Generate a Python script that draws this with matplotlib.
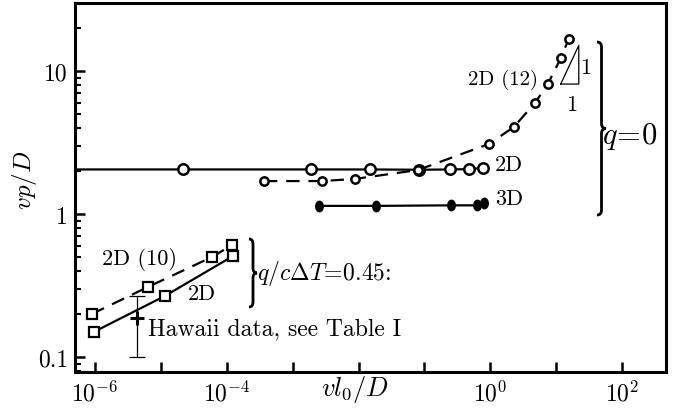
import numpy as np
import matplotlib
matplotlib.use("Agg")
import matplotlib.pyplot as plt
from matplotlib.path import Path
from matplotlib.patches import PathPatch

plt.rcParams['mathtext.fontset'] = 'cm'
plt.rcParams['font.family'] = 'serif'
plt.rcParams['font.serif'] = ['cmr10', 'DejaVu Serif']
plt.rcParams['axes.unicode_minus'] = False

# q = 0, 2D (solid), first x is where the line leaves the axis
x_2d = [10**-6.3, 10**-4.665, 10**-2.72, 10**-1.827, 10**-1.08, 10**-0.61, 10**-0.32, 10**-0.11]
y_2d = [2.05, 2.05, 2.05, 2.05, 2.04, 2.05, 2.06, 2.10]

# q = 0, 2D (12) (dashed)
x_2d12 = [10**-3.435, 10**-2.556, 10**-2.055, 10**-1.10, 10**-0.02, 10**0.358, 10**0.677, 10**0.874, 10**1.07, 10**1.19]
y_2d12 = [1.70, 1.70, 1.76, 2.03, 3.09, 4.06, 5.97, 8.11, 12.3, 16.7]

# q = 0, 3D (filled)
x_3d = [10**-2.60, 10**-1.736, 10**-0.598, 10**-0.203, 10**-0.097]
y_3d = [1.14, 1.14, 1.15, 1.15, 1.19]

# q/cdT = 0.45
x_q2d10 = [10**-6.046, 10**-5.196, 10**-4.225, 10**-3.92]
y_q2d10 = [0.200, 0.309, 0.50, 0.607]
x_q2d = [10**-6.015, 10**-4.94, 10**-3.906]
y_q2d = [0.150, 0.267, 0.508]

# Hawaii data
x_haw = [10**-5.36]
y_haw = [0.187]
y_haw_lo = [0.100]
y_haw_hi = [0.267]

# slope triangle (1:1)
tri_x = [10**1.07, 10**1.344, 10**1.344, 10**1.07]
tri_y = [10**0.909, 10**0.909, 10**1.18, 10**0.909]

xtick_pos = [1e-6, 1e-5, 1e-4, 1e-3, 1e-2, 1e-1, 1e0, 1e1, 1e2]
xtick_lab = [r'$10^{-6}$', '', r'$10^{-4}$', '', '', '', r'$10^{0}$', '', r'$10^{2}$']

# tall ellipse marker for the filled points
circ = Path.unit_circle()
ellipse = Path(circ.vertices * np.array([0.72, 1.0]), circ.codes)

fig = plt.figure(figsize=(6.74, 4.14), dpi=100)
ax = fig.add_axes([75/674, 41/414, 591/674, 369/414])
ax.set_xscale('log')
ax.set_yscale('log')
ax.set_xlim(10**-6.304, 10**2.668)
ax.set_ylim(10**-1.105, 10**1.476)

lw = 1.6
ax.plot(x_2d, y_2d, '-', color='k', lw=lw, marker='o', mfc='white', mec='k',
        ms=7.5, mew=1.8, markevery=list(range(1, len(x_2d))), zorder=3)
ax.plot(x_2d12, y_2d12, '--', color='k', lw=lw, dashes=(6, 4), marker='o',
        mfc='white', mec='k', ms=6, mew=1.8, zorder=3)
ax.plot(x_3d, y_3d, '-', color='k', lw=lw, marker=ellipse, mfc='k', mec='k',
        ms=7.5, zorder=3)
ax.plot(x_q2d10, y_q2d10, '--', color='k', lw=lw, dashes=(6, 4), marker='s',
        mfc='white', mec='k', ms=7, mew=1.6, zorder=3)
ax.plot(x_q2d, y_q2d, '-', color='k', lw=lw, marker='s', mfc='white', mec='k',
        ms=7, mew=1.6, zorder=3)

yerr = [[y_haw[0] - y_haw_lo[0]], [y_haw_hi[0] - y_haw[0]]]
ax.errorbar(x_haw, y_haw, yerr=yerr, fmt='none', ecolor='k', elinewidth=0.9,
            capsize=6, capthick=0.9)
ax.plot(x_haw, y_haw, marker='+', color='k', ms=10, mew=2.2, ls='none')

ax.plot(tri_x, tri_y, color='k', lw=0.9)

# ticks
ax.set_xticks(xtick_pos)
ax.set_xticklabels(xtick_lab)
ax.xaxis.set_minor_locator(matplotlib.ticker.NullLocator())
ax.set_yticks([0.1, 1, 10])
ax.set_yticklabels(['0.1', '1', '10'])
ax.yaxis.set_minor_locator(matplotlib.ticker.LogLocator(base=10, subs=np.arange(2, 10), numticks=20))
ax.yaxis.set_minor_formatter(matplotlib.ticker.NullFormatter())
ax.tick_params(axis='both', which='major', direction='in', length=7, width=1.8,
               labelsize=17, top=False, right=False)
ax.tick_params(axis='x', which='major', pad=6)
ax.tick_params(axis='y', which='major', pad=5)
ax.tick_params(axis='both', which='minor', direction='in', length=4.5, width=1.5,
               top=False, right=False)
for s in ax.spines.values():
    s.set_linewidth(2.2)

ax.text(-0.085, 0.523, r'$vp/D$', fontsize=18, rotation=90, ha='center',
        va='center', transform=ax.transAxes)
ax.text(10**-2.06, 10**-1.11, r'$vl_0/D$', fontsize=19, ha='center', va='top')

# labels
fs = 16
ax.text(10**0.725, 10**0.944, '2D (12)', fontsize=fs - 1, ha='right', va='center')
ax.text(10**1.45, 10**1.03, '1', fontsize=fs, ha='center', va='center')
ax.text(10**1.24, 10**0.765, '1', fontsize=fs, ha='center', va='center')
ax.text(10**0.072, 10**0.346, '2D', fontsize=fs, ha='left', va='center')
ax.text(10**0.072, 10**0.108, '3D', fontsize=fs, ha='left', va='center')
ax.text(10**1.69, 10**0.549, r'$q\!=\!0$', fontsize=22, ha='left', va='center')
ax.text(10**-5.894, 10**-0.311, '2D (10)', fontsize=fs, ha='left', va='center')
ax.text(10**-4.588, 10**-0.556, '2D', fontsize=fs, ha='left', va='center')
ax.text(10**-5.195, 10**-0.80, 'Hawaii data, see Table I', fontsize=17, ha='left', va='center')
ax.text(10**-3.541, 10**-0.406, r'$q/c\Delta T\!=\!0.45$:', fontsize=17, ha='left', va='center')


def brace(x0, top, bot, w):
    # pixel coords -> axes fraction
    def fx(p):
        return (p - 75) / 591

    def fy(p):
        return (373 - p) / 369
    mid = (top + bot) / 2
    r = 5
    verts = [(x0, top), (x0 + w/2, top), (x0 + w/2, top + r),
             (x0 + w/2, mid - r),
             (x0 + w/2, mid), (x0 + w, mid),
             (x0 + w/2, mid), (x0 + w/2, mid + r),
             (x0 + w/2, bot - r),
             (x0 + w/2, bot), (x0, bot)]
    codes = [Path.MOVETO, Path.CURVE3, Path.CURVE3, Path.LINETO,
             Path.CURVE3, Path.CURVE3, Path.CURVE3, Path.CURVE3,
             Path.LINETO, Path.CURVE3, Path.CURVE3]
    verts = [(fx(a), fy(b)) for a, b in verts]
    ax.add_patch(PathPatch(Path(verts, codes), fc='none', ec='k', lw=2,
                           transform=ax.transAxes, clip_on=False))


brace(597, 43, 216, 9)
brace(249, 240, 308, 8)

fig.savefig('out.png', dpi=100)
